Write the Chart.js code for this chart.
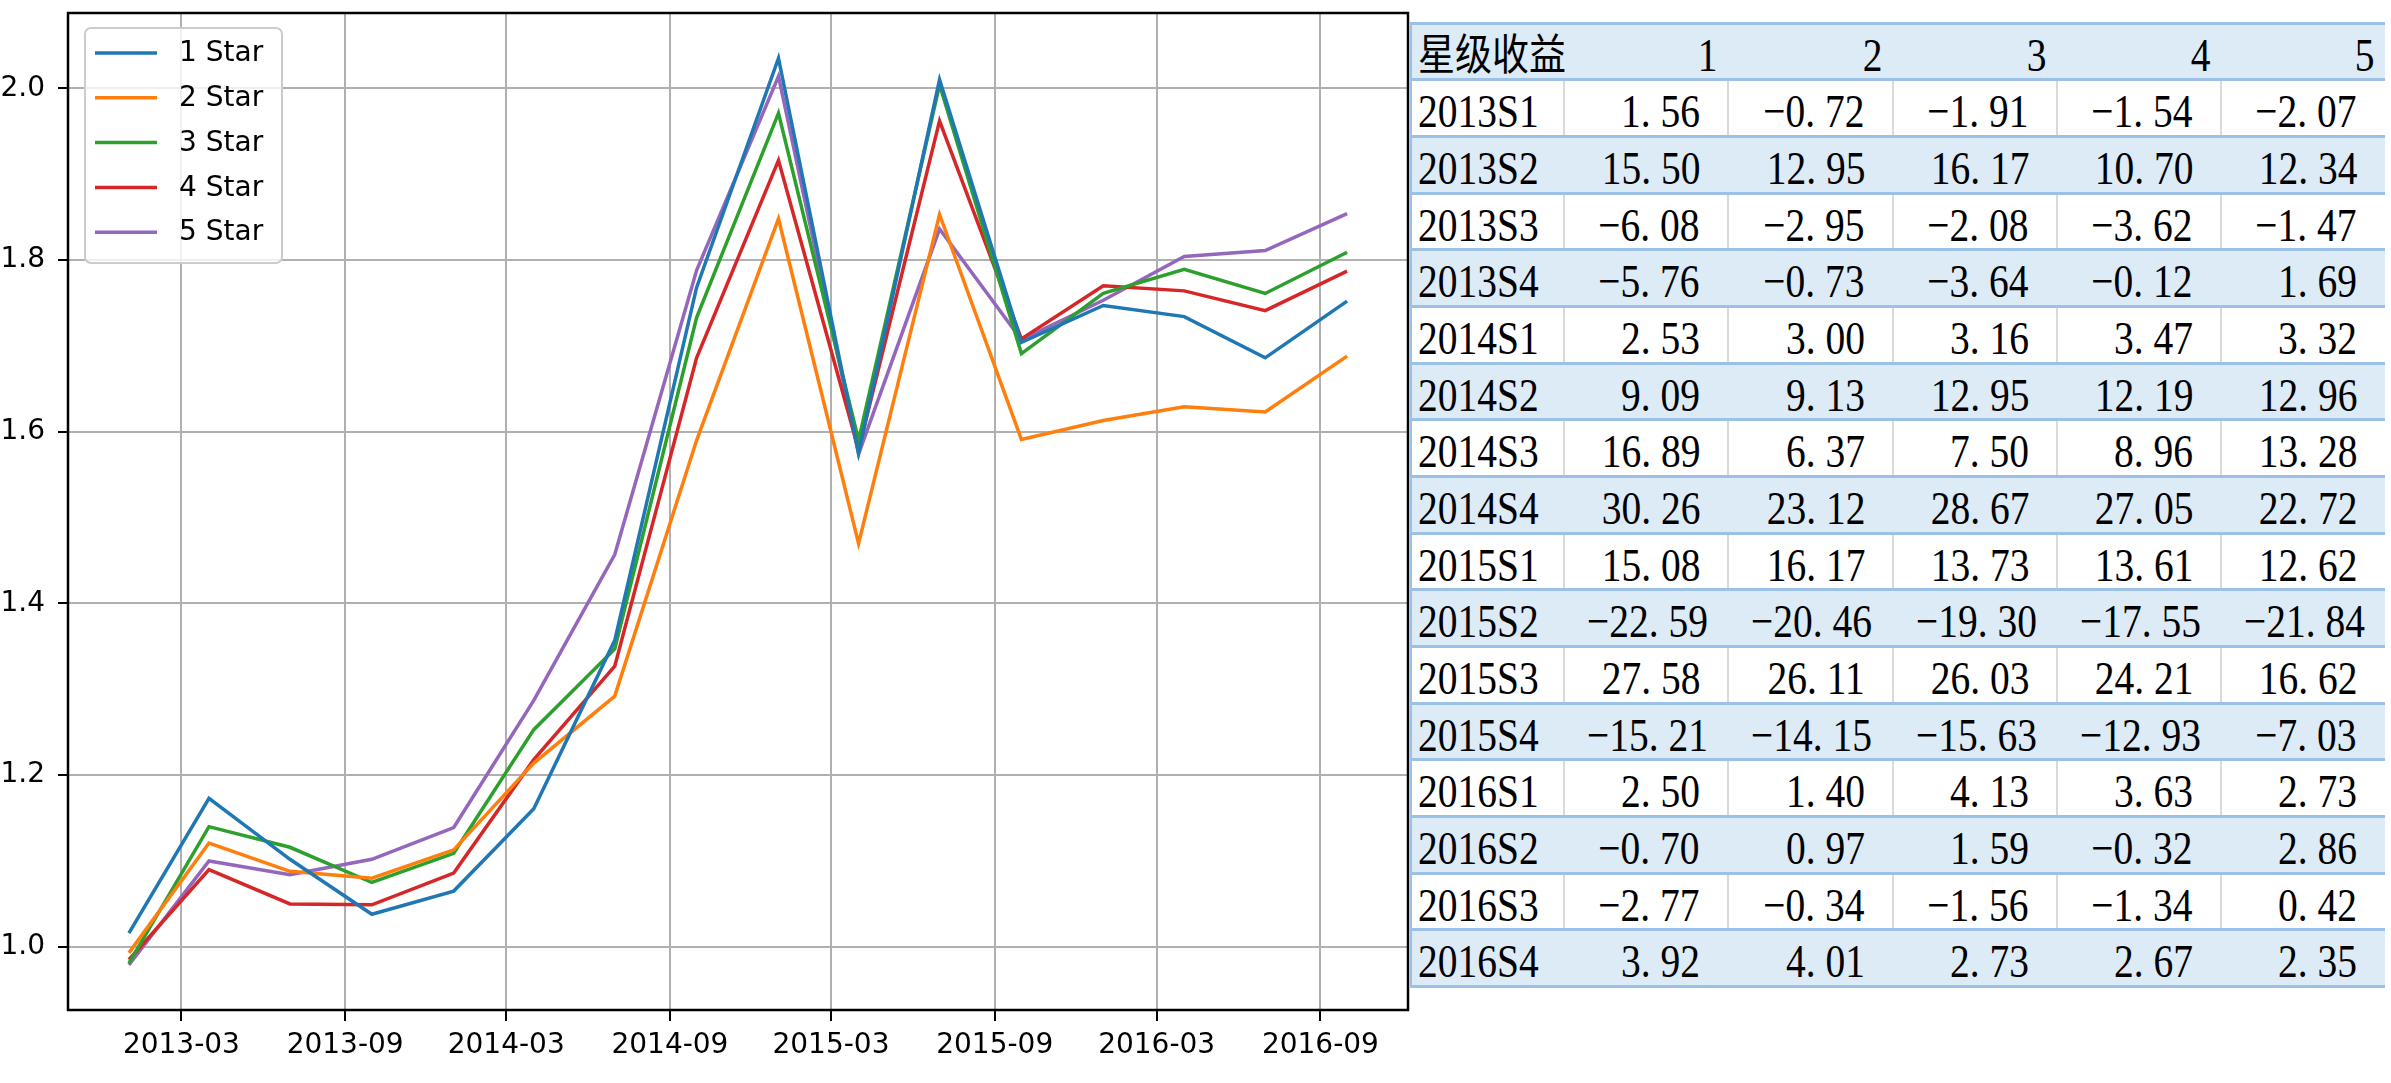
<!DOCTYPE html>
<html>
<head>
<meta charset="utf-8">
<script src="https://cdn.jsdelivr.net/npm/chart.js@4.4.1/dist/chart.umd.min.js"></script>
<style>
  html, body { margin: 0; padding: 0; background: #fff; }
  body { width: 2391px; height: 1083px; position: relative; overflow: hidden; }
  #wrap { position: absolute; left: 0; top: 0; width: 1411px; height: 1083px; }
  #tbl { position: absolute; left: 1411px; top: 23px; width: 974px; height: 964px; }
  #tbl div { position: absolute; box-sizing: border-box; }
  .bg { background: #ddebf7; }
  .vl { background: #d9d9d9; }
  .hl { background: #9bc2e6; }
  .tx { font-family: 'Liberation Serif', serif; font-size: 47px; line-height: 47px; color: #000; white-space: nowrap; }
  .tx span.s { display: inline-block; transform: scaleX(0.84); }
  .num { text-align: right; }
  .num span.s { transform-origin: right center; }
  .lab { text-align: left; padding-left: 7px; }
  .lab span.s { transform-origin: left center; }
  .cjk { font-family: 'Noto Sans CJK SC', sans-serif; font-size: 43px; line-height: 43px; }
  .cjk span.s { transform: scaleX(0.86); }
  .w { display: inline-block; width: 0.5em; text-align: left; }
</style>
</head>
<body>
<div id="wrap"><canvas id="c" width="1411" height="1083"></canvas></div>
<div id="tbl"></div>
<script>
// chart data (quarter start dates, cumulative value per star level)
const dates = ['2013-01-01', '2013-04-01', '2013-07-01', '2013-10-01', '2014-01-01', '2014-04-01', '2014-07-01', '2014-10-01',
               '2015-01-01', '2015-04-01', '2015-07-01', '2015-10-01', '2016-01-01', '2016-04-01', '2016-07-01', '2016-10-01'];
const xTickLabels = ['2013-03', '2013-09', '2014-03', '2014-09', '2015-03', '2015-09', '2016-03', '2016-09'];
const yTicks = [1.0, 1.2, 1.4, 1.6, 1.8, 2.0];
const seriesNames = ['1 Star', '2 Star', '3 Star', '4 Star', '5 Star'];
const nav1 = [1.016, 1.173, 1.102, 1.038, 1.065, 1.161, 1.357, 1.768, 2.035, 1.575, 2.010, 1.704, 1.747, 1.734, 1.686, 1.752];
const nav2 = [0.993, 1.121, 1.088, 1.080, 1.113, 1.214, 1.292, 1.590, 1.848, 1.470, 1.853, 1.591, 1.613, 1.629, 1.623, 1.688];
const nav3 = [0.981, 1.140, 1.116, 1.075, 1.109, 1.253, 1.347, 1.733, 1.971, 1.590, 2.004, 1.691, 1.761, 1.789, 1.761, 1.809];
const nav4 = [0.985, 1.090, 1.050, 1.049, 1.086, 1.218, 1.327, 1.686, 1.916, 1.579, 1.962, 1.708, 1.770, 1.764, 1.741, 1.787];
const nav5 = [0.979, 1.100, 1.084, 1.102, 1.139, 1.287, 1.457, 1.788, 2.014, 1.574, 1.836, 1.707, 1.753, 1.804, 1.811, 1.854];

// table data (quarterly return %, one array per star level)
const tableTitle = '星级收益';
const tableCols = ['1', '2', '3', '4', '5'];
const periods = ['2013S1', '2013S2', '2013S3', '2013S4', '2014S1', '2014S2', '2014S3', '2014S4',
                 '2015S1', '2015S2', '2015S3', '2015S4', '2016S1', '2016S2', '2016S3', '2016S4'];
const ret1 = [1.56, 15.50, -6.08, -5.76, 2.53, 9.09, 16.89, 30.26, 15.08, -22.59, 27.58, -15.21, 2.50, -0.70, -2.77, 3.92];
const ret2 = [-0.72, 12.95, -2.95, -0.73, 3.00, 9.13, 6.37, 23.12, 16.17, -20.46, 26.11, -14.15, 1.40, 0.97, -0.34, 4.01];
const ret3 = [-1.91, 16.17, -2.08, -3.64, 3.16, 12.95, 7.50, 28.67, 13.73, -19.30, 26.03, -15.63, 4.13, 1.59, -1.56, 2.73];
const ret4 = [-1.54, 10.70, -3.62, -0.12, 3.47, 12.19, 8.96, 27.05, 13.61, -17.55, 24.21, -12.93, 3.63, -0.32, -1.34, 2.67];
const ret5 = [-2.07, 12.34, -1.47, 1.69, 3.32, 12.96, 13.28, 22.72, 12.62, -21.84, 16.62, -7.03, 2.73, 2.86, 0.42, 2.35];

const colors = ['#1f77b4', '#ff7f0e', '#2ca02c', '#d62728', '#9467bd'];
const series = [nav1, nav2, nav3, nav4, nav5];
const day = s => (Date.parse(s) - Date.parse('2013-01-01')) / 864e5;

// matplotlib-ish frame + legend inside the axes
const frameLegend = {
  id: 'frameLegend',
  afterDatasetsDraw(chart) {
    const { ctx, chartArea: a } = chart;
    ctx.save();
    const lx = a.left + 17, ly = a.top + 15, lw = 197, lh = 235;
    ctx.beginPath();
    ctx.roundRect(lx, ly, lw, lh, 6);
    ctx.fillStyle = 'rgba(255,255,255,0.8)';
    ctx.fill();
    ctx.strokeStyle = '#cccccc';
    ctx.lineWidth = 2;
    ctx.stroke();
    ctx.font = '28px "DejaVu Sans"';
    ctx.textBaseline = 'middle';
    ctx.fillStyle = '#000';
    chart.data.datasets.forEach((ds, i) => {
      const y = ly + 25 + i * 44.8;
      ctx.beginPath();
      ctx.moveTo(lx + 10, y);
      ctx.lineTo(lx + 72, y);
      ctx.strokeStyle = ds.borderColor;
      ctx.lineWidth = 3.5;
      ctx.stroke();
      ctx.fillText(ds.label, lx + 94, y + 1);
    });
    ctx.strokeStyle = '#000';
    ctx.lineWidth = 2.5;
    ctx.strokeRect(a.left, a.top, a.right - a.left, a.bottom - a.top);
    ctx.restore();
  }
};

new Chart(document.getElementById('c'), {
  type: 'line',
  data: {
    datasets: seriesNames.map((name, i) => ({
      label: name,
      data: series[i].map((v, k) => ({ x: day(dates[k]), y: v })),
      borderColor: colors[i],
      backgroundColor: colors[i],
      borderWidth: 3.5,
      pointRadius: 0,
      tension: 0,
      fill: false
    }))
  },
  options: {
    responsive: false,
    animation: false,
    events: [],
    layout: { padding: { left: 0, top: 13, right: 3, bottom: 0 } },
    plugins: { legend: { display: false }, tooltip: { enabled: false } },
    scales: {
      x: {
        type: 'linear',
        min: -68.45,
        max: 1437.45,
        afterBuildTicks: s => { s.ticks = xTickLabels.map(l => ({ value: day(l + '-01') })); },
        afterFit: s => { s.height = 73; s.paddingLeft = 0; s.paddingRight = 0; },
        border: { display: false },
        grid: { color: '#b0b0b0', lineWidth: 2, tickColor: '#000', tickWidth: 2, tickLength: 11 },
        ticks: { color: '#000', padding: 8, maxRotation: 0, font: { family: 'DejaVu Sans', size: 28 },
                 callback: (v, i) => xTickLabels[i] }
      },
      y: {
        min: 0.9265,
        max: 2.0876,
        afterBuildTicks: s => { s.ticks = yTicks.map(v => ({ value: v })); },
        afterFit: s => { s.width = 68; s.paddingTop = 0; s.paddingBottom = 0; },
        border: { display: false },
        grid: { color: '#b0b0b0', lineWidth: 2, tickColor: '#000', tickWidth: 2, tickLength: 10 },
        ticks: { color: '#000', padding: 13, font: { family: 'DejaVu Sans', size: 28 },
                 callback: v => v.toFixed(1) }
      }
    }
  },
  plugins: [frameLegend]
});

// the table on the right
const tbl = document.getElementById('tbl');
const colX = [0, 153, 317, 482, 646, 810, 974];
const rowH = 56.67;
function box(cls, l, t, w, h, html) {
  const d = document.createElement('div');
  d.className = cls;
  d.style.left = l + 'px'; d.style.top = t + 'px';
  d.style.width = w + 'px'; d.style.height = h + 'px';
  if (html != null) d.innerHTML = html;
  tbl.appendChild(d);
  return d;
}
function fmt(v) {
  return v.toFixed(2).replace('-', '\u2212').replace('.', '<span class="w">.</span>');
}
const rets = [ret1, ret2, ret3, ret4, ret5];
const rows = [[tableTitle].concat(tableCols)].concat(periods.map((p, i) => [p].concat(rets.map(r => fmt(r[i])))));

rows.forEach((row, r) => {
  const top = r * rowH;
  if (r % 2 === 0) box('bg', 0, top, 974, rowH);
  else for (let c = 1; c < 6; c++) box('vl', colX[c] - 1, top, 2, rowH);
  row.forEach((txt, c) => {
    const w = colX[c + 1] - colX[c];
    if (c === 0 && r === 0) {
      box('tx cjk lab', colX[c], top + 7, w, 43, '<span class="s">' + txt + '</span>');
    } else if (c === 0) {
      box('tx lab', colX[c], top + 8.6, w, 47, '<span class="s">' + txt + '</span>');
    } else {
      const d = box('tx num', colX[c], top + 8.6, w, 47, '<span class="s">' + txt + '</span>');
      d.style.paddingRight = (r === 0 ? 11 : 28) + 'px';
    }
  });
});
for (let r = 0; r <= 17; r++) box('hl', 0, r * rowH - 1.5, 974, 3);
box('hl', -1, -1.5, 2, 17 * rowH + 3);
</script>
</body>
</html>
